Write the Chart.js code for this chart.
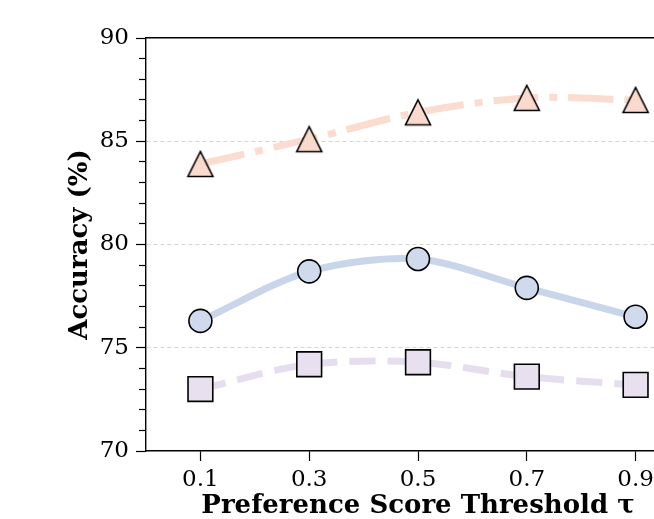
<!DOCTYPE html>
<html>
<head>
<meta charset="utf-8">
<script src="https://cdn.jsdelivr.net/npm/chart.js@4.4.1/dist/chart.umd.min.js"></script>
<style>
  html, body { margin: 0; padding: 0; background: #fff; overflow: hidden; }
  #wrap { width: 654px; height: 519px; overflow: hidden; }
</style>
</head>
<body>
<div id="wrap"><canvas id="chart" width="720" height="519"></canvas></div>
<script>
// values
const thresholds = [0.1, 0.3, 0.5, 0.7, 0.9];
const triangleAcc = [83.9, 85.1, 86.4, 87.1, 87.0];
const circleAcc = [76.3, 78.7, 79.3, 77.9, 76.5];
const squareAcc = [73.0, 74.2, 74.3, 73.6, 73.2];

const xTitle = 'Preference Score Threshold τ';
const yTitle = 'Accuracy (%)';

const tickFont = { family: 'DejaVu Serif', size: 23 };
const titleFont = { family: 'DejaVu Serif', size: 26, weight: 'bold', lineHeight: 1 };

// matplotlib style triangle (height == width, centred on its box)
function triangleMarker(fill) {
    const c = document.createElement('canvas');
    c.width = 30;
    c.height = 30;
    const g = c.getContext('2d');
    g.beginPath();
    g.moveTo(15, 2.5);
    g.lineTo(27.5, 27.5);
    g.lineTo(2.5, 27.5);
    g.closePath();
    g.fillStyle = fill;
    g.fill();
    g.lineWidth = 1.6;
    g.strokeStyle = '#000';
    g.stroke();
    return c;
}

function toPoints(values) {
    return thresholds.map((t, i) => ({ x: t, y: values[i] }));
}

const isMajor = (c) => c.tick && c.tick.value % 5 === 0;

const ctx = document.getElementById('chart');

const chart = new Chart(ctx, {
    type: 'line',
    data: {
        datasets: [
            {
                label: 'circle',
                data: toPoints(circleAcc),
                borderColor: '#c9d6ea',
                backgroundColor: '#cfdbec',
                borderWidth: 7,
                tension: 0.3,
                pointStyle: 'circle',
                pointRadius: 11.5,
                pointBorderWidth: 1.6,
                pointBorderColor: '#000',
                pointBackgroundColor: '#cfdbec'
            },
            {
                label: 'square',
                data: toPoints(squareAcc),
                borderColor: '#e6deee',
                backgroundColor: '#e8e0ee',
                borderWidth: 7,
                borderDash: [26, 12],
                tension: 0.3,
                pointStyle: 'rect',
                pointRadius: 17.5,
                pointBorderWidth: 1.6,
                pointBorderColor: '#000',
                pointBackgroundColor: '#e8e0ee'
            },
            {
                label: 'triangle',
                data: toPoints(triangleAcc),
                borderColor: '#fadcd0',
                backgroundColor: '#fadacd',
                borderWidth: 7,
                borderDash: [45, 11, 8, 11],
                tension: 0.3,
                pointStyle: triangleMarker('#fadacd'),
                pointRadius: 15
            }
        ]
    },
    options: {
        responsive: false,
        animation: false,
        layout: { padding: { top: 38, right: 30, bottom: 0, left: 0 } },
        plugins: {
            legend: { display: false },
            tooltip: { enabled: false }
        },
        scales: {
            x: {
                type: 'linear',
                min: 0,
                max: 1,
                afterBuildTicks: (scale) => {
                    scale.ticks = thresholds.map(v => ({ value: v }));
                },
                afterFit: (scale) => { scale.height = 68; },
                ticks: {
                    callback: (v) => v.toFixed(1),
                    font: tickFont,
                    color: '#000',
                    padding: 5,
                    maxRotation: 0
                },
                grid: {
                    drawOnChartArea: false,
                    tickLength: 10,
                    tickColor: '#000',
                    tickWidth: 1.2
                },
                border: { color: '#000', width: 1.4 },
                title: {
                    display: true,
                    text: xTitle,
                    font: titleFont,
                    color: '#000',
                    padding: { top: 0, bottom: 0 }
                }
            },
            xTop: {
                type: 'linear',
                position: 'top',
                min: 0,
                max: 1,
                ticks: { display: false },
                grid: { drawOnChartArea: false, drawTicks: false },
                border: { color: '#000', width: 1.4 }
            },
            y: {
                min: 70,
                max: 90,
                afterFit: (scale) => { scale.width = 146; },
                ticks: {
                    stepSize: 1,
                    autoSkip: false,
                    callback: (v) => (v % 5 === 0 ? v : ''),
                    font: tickFont,
                    color: '#000',
                    padding: 7
                },
                grid: {
                    color: (c) => {
                        const v = c.tick ? c.tick.value : 0;
                        return (v % 5 === 0 && v > 70 && v < 90) ? '#d4d4d4' : 'rgba(0,0,0,0)';
                    },
                    lineWidth: 1,
                    tickColor: '#000',
                    tickLength: 10,
                    tickWidth: 1.2,
                    // minor ticks: only the inner part of the tick line is drawn
                    tickBorderDash: (c) => (isMajor(c) ? [20, 0] : [7, 3]),
                    tickBorderDashOffset: (c) => (isMajor(c) ? 0 : 7)
                },
                border: { color: '#000', width: 1.4, dash: [4, 3] },
                title: {
                    display: true,
                    text: yTitle,
                    font: titleFont,
                    color: '#000',
                    padding: { top: 67, bottom: 0 }
                }
            }
        }
    }
});
</script>
</body>
</html>
